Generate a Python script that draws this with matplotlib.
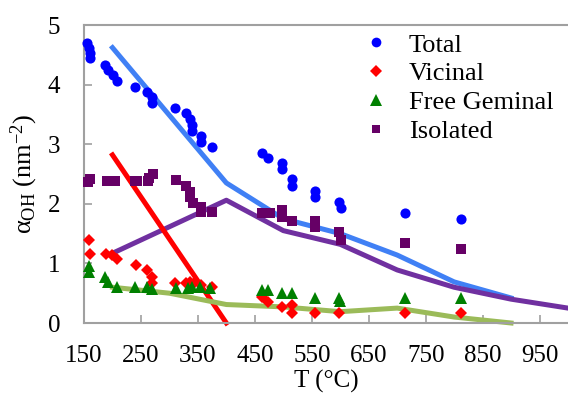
import matplotlib
matplotlib.use("Agg")
import matplotlib.pyplot as plt
from matplotlib.lines import Line2D

plt.rcParams['font.family'] = ['Liberation Serif', 'DejaVu Serif']
plt.rcParams['mathtext.fontset'] = 'custom'
plt.rcParams['mathtext.rm'] = 'Liberation Serif'
plt.rcParams['mathtext.it'] = 'Liberation Serif'

# ---- data ----
total_T = [155, 159, 160, 160, 187, 192, 201, 208, 239, 260, 269, 269, 309, 329, 337, 339,
           339, 355, 355, 374, 462, 474, 497, 497, 516, 516, 555, 556, 597, 602, 714, 812]
total_v = [4.70, 4.61, 4.53, 4.45, 4.33, 4.24, 4.16, 4.06, 3.96, 3.88, 3.79, 3.69, 3.61, 3.52,
           3.42, 3.32, 3.22, 3.14, 3.04, 2.95, 2.85, 2.77, 2.68, 2.58, 2.42, 2.30, 2.21, 2.11,
           2.03, 1.93, 1.85, 1.74]

vic_T = [159, 160, 188, 199, 208, 241, 260, 269, 269, 309, 330, 337, 344, 356, 374, 462, 474,
         497, 516, 516, 555, 597, 714, 812]
vic_v = [1.39, 1.16, 1.16, 1.14, 1.07, 0.97, 0.89, 0.77, 0.67, 0.67, 0.67, 0.69, 0.67, 0.64,
         0.60, 0.44, 0.35, 0.27, 0.30, 0.17, 0.17, 0.17, 0.17, 0.17]

gem_T = [159, 159, 187, 193, 208, 240, 260, 269, 311, 332, 339, 353, 372, 462, 474, 497, 516,
         555, 597, 600, 714, 812]
gem_v = [0.96, 0.86, 0.77, 0.69, 0.61, 0.61, 0.61, 0.57, 0.59, 0.59, 0.60, 0.60, 0.59, 0.55,
         0.55, 0.51, 0.51, 0.42, 0.42, 0.37, 0.42, 0.42]

iso_T = [157, 160, 190, 204, 239, 243, 262, 265, 271, 311, 329, 337, 337, 341, 355, 355, 374,
         462, 476, 497, 497, 516, 555, 556, 597, 602, 714, 812]
iso_v = [2.37, 2.42, 2.38, 2.38, 2.38, 2.38, 2.38, 2.43, 2.50, 2.40, 2.30, 2.20, 2.11, 2.01,
         1.95, 1.86, 1.86, 1.85, 1.85, 1.90, 1.78, 1.71, 1.71, 1.61, 1.53, 1.39, 1.34, 1.24]

# model lines
tot_line_T = [200, 400, 500, 600, 700, 800, 900]
tot_line_v = [4.62, 2.35, 1.75, 1.50, 1.14, 0.69, 0.42]
iso_line_T = [200, 400, 500, 600, 700, 800, 900, 1000]
iso_line_v = [1.17, 2.06, 1.55, 1.32, 0.89, 0.60, 0.40, 0.25]
vic_line_T = [200, 300, 400]
vic_line_v = [2.82, 1.41, 0.0]
gem_line_T = [200, 300, 400, 500, 600, 700, 800, 900]
gem_line_v = [0.60, 0.50, 0.31, 0.27, 0.19, 0.25, 0.10, 0.0]

xticks = [150, 250, 350, 450, 550, 650, 750, 850, 950]
yticks = [0, 1, 2, 3, 4, 5]

labels = ['Total', 'Vicinal', 'Free Geminal', 'Isolated']

# ---- figure ----
fig = plt.figure(figsize=(5.68, 3.96), dpi=100)
ax = fig.add_axes([84/568, 73/396, 484/568, 298/396])

lw = 3.6
ax.plot(tot_line_T, tot_line_v, color='#4080f5', lw=lw, clip_on=False, zorder=2)
ax.plot(iso_line_T, iso_line_v, color='#7030a0', lw=lw, clip_on=False, zorder=2)
ax.plot(vic_line_T, vic_line_v, color='#ff0000', lw=lw, clip_on=False, zorder=2)
ax.plot(gem_line_T, gem_line_v, color='#9bbb59', lw=lw, clip_on=False, zorder=2)

ax.plot(total_T, total_v, 'o', color='#0000ff', ms=7.3, mew=0, clip_on=False, zorder=3)
ax.plot(vic_T, vic_v, 'D', color='#ff0000', ms=6.4, mew=0, clip_on=False, zorder=3)
ax.plot(gem_T, gem_v, '^', color='#008000', ms=8.5, mew=0, clip_on=False, zorder=3)
ax.plot(iso_T, iso_v, 's', color='#660066', ms=6.8, mew=0, clip_on=False, zorder=3)

ax.set_xlim(150, 1000)
ax.set_ylim(0, 5)
ax.set_xticks(xticks)
ax.set_yticks(yticks)
ax.tick_params(direction='in', length=6, color='#a0a0a0', labelsize=18, width=1.2)
ax.tick_params(axis='x', pad=16)
ax.tick_params(axis='y', pad=17)

for s in ['left', 'bottom', 'top']:
    ax.spines[s].set_color('#a0a0a0')
    ax.spines[s].set_linewidth(1.5)
ax.spines['right'].set_visible(False)

ax.set_xlabel('T (°C)', fontsize=18, labelpad=2)
ax.set_ylabel(r'$\alpha_{\rm OH}$ (nm$^{-2}$)', fontsize=19, labelpad=6)

handles = [
    Line2D([], [], ls='none', marker='o', color='#0000ff', ms=7, mew=0),
    Line2D([], [], ls='none', marker='D', color='#ff0000', ms=6, mew=0),
    Line2D([], [], ls='none', marker='^', color='#008000', ms=8, mew=0),
    Line2D([], [], ls='none', marker='s', color='#660066', ms=6, mew=0),
]
ax.legend(handles, labels, loc='upper left', bbox_to_anchor=(0.538, 1.035), frameon=False,
          fontsize=19, handlelength=1.0, handletextpad=0.75, labelspacing=0.2,
          borderaxespad=0.3)

fig.savefig('out.png', dpi=100)
